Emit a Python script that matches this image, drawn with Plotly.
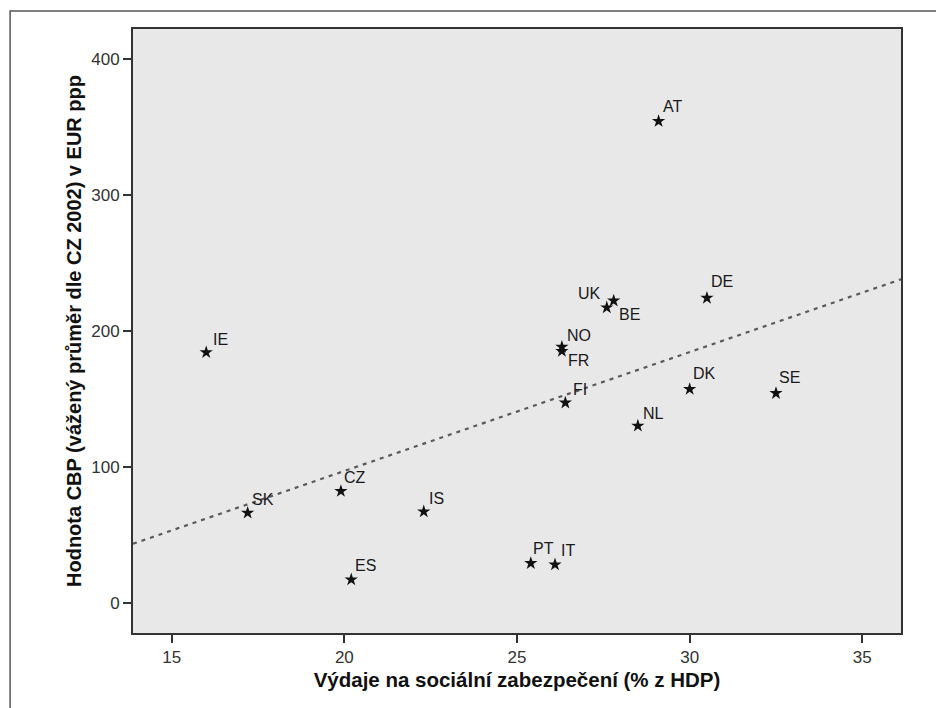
import numpy as np
import plotly.graph_objects as go

countries = ["AT", "DE", "UK", "BE", "NO", "FR", "FI", "NL", "DK", "SE",
             "IE", "SK", "CZ", "IS", "ES", "PT", "IT"]
social_spending = [29.1, 30.5, 27.6, 27.8, 26.3, 26.3, 26.4, 28.5, 30.0, 32.5,
                   16.0, 17.2, 19.9, 22.3, 20.2, 25.4, 26.1]
cbp_value = [354, 224, 217, 222, 188, 185, 147, 130, 157, 154,
             184, 66, 82, 67, 17, 29, 28]
# label offsets (pixels) relative to each point
label_dx = [14, 15, -17, 16, 17, 17, 15, 16, 15, 14, 14, 15, 14, 13, 14, 13, 13]
label_dy = [15, 17, 14, -14, 11, -9, 13, 12, 16, 16, 13, 13, 14, 13, 14, 15, 14]

x_ticks = [15, 20, 25, 30, 35]
y_ticks = [0, 100, 200, 300, 400]
x_range = [13.88, 36.12]
y_range = [-22.3, 421.8]

x_title = "Výdaje na sociální zabezpečení (% z HDP)"
y_title = "Hodnota CBP (vážený průměr dle CZ 2002) v EUR ppp"

slope, intercept = np.polyfit(social_spending, cbp_value, 1)
fit_x = np.array(x_range)
fit_y = intercept + slope * fit_x

fig = go.Figure()
fig.add_trace(go.Scatter(
    x=fit_x, y=fit_y, mode="lines",
    line=dict(color="#5a5a5a", width=2.2, dash="4px,5px"),
    hoverinfo="skip", showlegend=False))
fig.add_trace(go.Scatter(
    x=social_spending, y=cbp_value, mode="markers",
    marker=dict(symbol="star", size=10, color="#111111", line=dict(width=0)),
    text=countries, showlegend=False))

for c, x, y, dx, dy in zip(countries, social_spending, cbp_value, label_dx, label_dy):
    fig.add_annotation(x=x, y=y, text=c, showarrow=False, xshift=dx, yshift=dy,
                       font=dict(family="Liberation Sans, Arial", size=16, color="#1a1a1a"))

fig.add_shape(type="rect", xref="paper", yref="paper",
              x0=-0.16, x1=1.1, y0=-0.3, y1=1.03,
              line=dict(color="#555555", width=1.5), layer="below")

axis_common = dict(showgrid=False, zeroline=False, showline=True, mirror=True,
                   linecolor="#333333", linewidth=2, ticks="outside", ticklen=8,
                   tickwidth=2, tickcolor="#333333",
                   tickfont=dict(family="Liberation Sans, Arial", size=17, color="#333333"))

fig.update_layout(
    width=936, height=708,
    margin=dict(l=133, r=35, t=29, b=75),
    paper_bgcolor="white", plot_bgcolor="#e8e8e8",
    xaxis=dict(range=x_range, tickvals=x_ticks,
               title=dict(text=x_title, standoff=6,
                          font=dict(family="Liberation Sans, Arial", size=20.5, color="#111111", weight="bold")),
               **axis_common),
    yaxis=dict(range=y_range, tickvals=y_ticks,
               title=dict(text=y_title, standoff=4,
                          font=dict(family="Liberation Sans, Arial", size=20, color="#111111", weight="bold")),
               **axis_common),
)

fig.write_html("out.html")
